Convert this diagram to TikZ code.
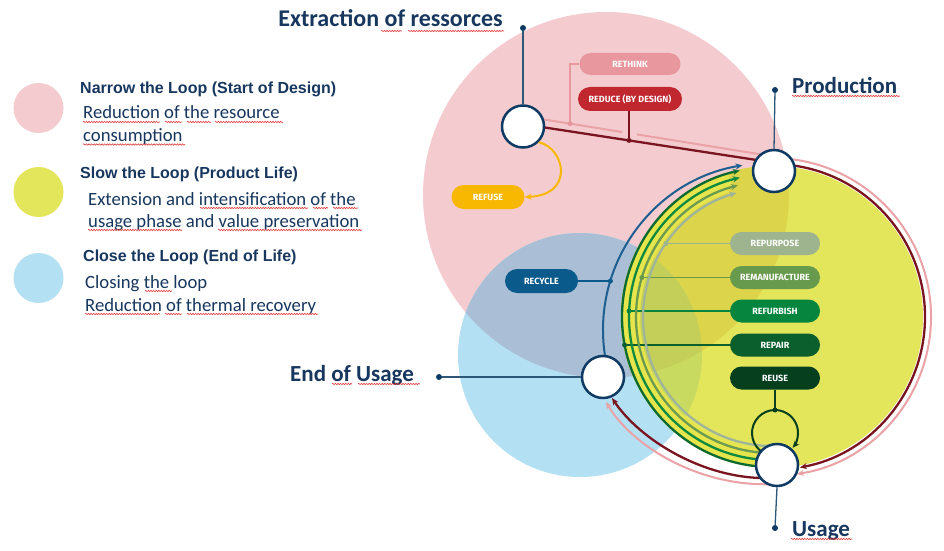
\documentclass[tikz,border=0pt]{standalone}
\usepackage{fontspec}
\setmainfont{Carlito}
\newfontfamily\arialfont{Liberation Sans}
\newfontfamily\pillfont{Fira Sans}
\usetikzlibrary{arrows.meta,calc,decorations.pathmorphing,shapes.misc}
\definecolor{cpink}{HTML}{F4CCD0}
\definecolor{cblue}{HTML}{B3E0F2}
\definecolor{cpb}{HTML}{AABFD6}
\definecolor{cyel}{HTML}{E3E55B}
\definecolor{cyp}{HTML}{DCD44A}
\definecolor{cyb}{HTML}{C8DA60}
\definecolor{cypb}{HTML}{C4CF5A}
\definecolor{cyelb}{HTML}{E6E54C}
\definecolor{nodeblue}{HTML}{0F3A63}
\definecolor{labelnavy}{HTML}{17375E}
\definecolor{pinline}{HTML}{2D5677}
\definecolor{cred}{HTML}{7A1420}
\definecolor{cpinkl}{HTML}{EBA2A7}
\definecolor{crethink}{HTML}{E8979E}
\definecolor{creduce}{HTML}{C0272F}
\definecolor{crefuse}{HTML}{F8B700}
\definecolor{crecycle}{HTML}{0A5A8C}
\definecolor{cbluel}{HTML}{1E5E90}
\definecolor{crepurp}{HTML}{9DB48E}
\definecolor{creman}{HTML}{679A4C}
\definecolor{crefurb}{HTML}{05853E}
\definecolor{crepair}{HTML}{0B5F2D}
\definecolor{creuse}{HTML}{063F1D}
\definecolor{cdkg}{HTML}{0C6B30}
\definecolor{cgreen}{HTML}{0E8A40}
\definecolor{cmidg}{HTML}{6B9B50}
\definecolor{cgrey}{HTML}{9FB59A}
\definecolor{sqred}{HTML}{E03A3A}
\begin{document}
\begin{tikzpicture}[x=1pt,y=1pt,
  stage/.style={circle, draw=nodeblue, line width=2.5pt, fill=white, minimum size=42pt, inner sep=0pt},
  pill/.style={rounded rectangle, inner sep=0pt, minimum width=90pt, minimum height=23pt, text=white,
     font=\pillfont\bfseries\fontsize{9}{10}\selectfont},
  legdot/.style={circle, inner sep=0pt, minimum size=50pt},
  pdot/.style={circle, fill=nodeblue, inner sep=0pt, minimum size=6pt},
  sdot/.style={circle, inner sep=0pt, minimum size=5pt},
  pinl/.style={draw=pinline, line width=1.3pt},
  conn/.style={line width=1.3pt},
  arcl/.style={line width=2.3pt, -{Stealth[length=7pt,width=6pt]}},
  tip/.style={-{Stealth[length=7pt,width=6pt]}},
  bigl/.style={font=\bfseries\fontsize{23}{26}\selectfont, text=labelnavy, inner sep=0pt},
  ltitle/.style={font=\arialfont\bfseries\fontsize{16}{19}\selectfont, text=labelnavy, inner sep=0pt, anchor=base west},
  lbody/.style={font=\fontsize{18.7}{22}\selectfont, text=labelnavy, inner sep=0pt, anchor=base west},
  squig/.style={draw=sqred, line width=0.6pt, decorate, decoration={snake, segment length=2.6pt, amplitude=0.7pt}}
]
\useasboundingbox (0,0) rectangle (944,550);
\fill[white] (0,0) rectangle (944,550);
\coordinate (pc) at (606,355);
\coordinate (bc) at (580,195);
\coordinate (yc) at (772,233);
\coordinate (rc) at (770,220);
% background circles
\fill[cpink] (pc) circle[radius=183];
\fill[cblue] (bc) circle[radius=122];
\begin{scope}
  \clip (pc) circle[radius=183];
  \fill[cpb] (bc) circle[radius=122];
\end{scope}
\fill[cyel] (yc) circle[radius=151];
\begin{scope}
  \clip (yc) circle[radius=151];
  \fill[cyp] (pc) circle[radius=183];
  \fill[cyb] (bc) circle[radius=122];
  \clip (pc) circle[radius=183];
  \fill[cypb] (bc) circle[radius=122];
\end{scope}
% legend
\node[legdot, fill=cpink] (lpink) at (38.5,442) {};
\node[legdot, fill=cyel] (lyel) at (38.5,358) {};
\node[legdot, fill=cblue] (lblue) at (38.5,272) {};
\node[ltitle] (t1) at (80,456) {Narrow the Loop (Start of Design)};
\node[lbody] (b1a) at (83,431) {Reduction of the resource};
\node[lbody] (b1b) at (83,409) {consumption};
\node[ltitle] (t2) at (80,372) {Slow the Loop (Product Life)};
\node[lbody] (b2a) at (88,345) {Extension and intensification of the};
\node[lbody] (b2b) at (88,323) {usage phase and value preservation};
\node[ltitle] (t3) at (83,289) {Close the Loop (End of Life)};
\node[lbody] (b3a) at (85,262) {Closing the loop};
\node[lbody] (b3b) at (85,239) {Reduction of thermal recovery};
% spell-check marks
\draw[squig] (83,428) -- (160,428);
\draw[squig] (165,428) -- (182,428);
\draw[squig] (187,428) -- (211,428);
\draw[squig] (215,428) -- (283,428);
\draw[squig] (83,405.5) -- (185,405.5);
\draw[squig] (200,342) -- (308,342);
\draw[squig] (313,342) -- (328,342);
\draw[squig] (333,342) -- (358,342);
\draw[squig] (88,320) -- (182,320);
\draw[squig] (218,320) -- (362,320);
\draw[squig] (145,259) -- (172,259);
\draw[squig] (85,236) -- (160,236);
\draw[squig] (165,236) -- (182,236);
\draw[squig] (187,236) -- (318,236);
% yellow casing of the arc band
\draw[cyelb, line width=12pt] ([shift={(-90:143)}]yc) arc[start angle=-90, end angle=-253, radius=143];
\draw[cyelb, line width=8pt] ([shift={(-90:136)}]yc) arc[start angle=-90, end angle=-251, radius=136];
% pills
\node[pill, fill=crethink, minimum width=101pt, minimum height=22pt] (rethink) at (630,486) {RETHINK};
\node[pill, fill=creduce, minimum width=104pt, minimum height=24pt] (reduce) at (630,451) {REDUCE (BY DESIGN)};
\node[pill, fill=crefuse, minimum width=73pt, minimum height=24pt] (refuse) at (488,353) {REFUSE};
\node[pill, fill=crecycle, minimum width=73pt, minimum height=24pt] (recycle) at (541.5,269) {RECYCLE};
\node[pill, fill=crepurp] (repurpose) at (775,306.5) {REPURPOSE};
\node[pill, fill=creman] (reman) at (775,272.5) {REMANUFACTURE};
\node[pill, fill=crefurb] (refurb) at (775,239) {REFURBISH};
\node[pill, fill=crepair] (repair) at (775,205) {REPAIR};
\node[pill, fill=creuse] (reuse) at (775,172) {REUSE};
% dots on arcs
\coordinate (drp) at (666,306.5);
\coordinate (drm) at (641.9,272.5);
\coordinate (drf) at (629.1,239);
\coordinate (drr) at (624.6,205);
\coordinate (drc) at (610.4,269);
\coordinate (dru) at (775,140);
% connectors
\draw[conn, crepurp] (repurpose.west) -- (drp);
\draw[conn, creman] (reman.west) -- (drm);
\draw[conn, crefurb] (refurb.west) -- (drf);
\draw[conn, crepair] (repair.west) -- (drr);
\draw[conn, crecycle] (recycle.east) -- (drc);
\draw[conn, creuse] (reuse.south) -- (dru);
% green arcs and blue arc
\draw[arcl, cgrey] ([shift={(-90:129)}]yc) arc[start angle=-90, end angle=-254, radius=129];
\draw[arcl, cmidg] ([shift={(-90:136)}]yc) arc[start angle=-90, end angle=-255.5, radius=136];
\draw[arcl, cgreen] ([shift={(-90:143)}]yc) arc[start angle=-90, end angle=-257, radius=143];
\draw[arcl, cdkg] ([shift={(-90:150)}]yc) arc[start angle=-90, end angle=-257.6, radius=150];
\draw[arcl, cbluel, line width=2pt] ([shift={(-170.5:167)}]rc) arc[start angle=-170.5, end angle=-260.5, radius=167];
% reuse loop
\draw[line width=2pt, creuse, tip] ([shift={(238:23)}]775,117) arc[start angle=238, end angle=-40, radius=23];
% red and pink lines
\coordinate (rA) at (535,424);
\coordinate (rk1) at ([shift={(84:153)}]yc);
\coordinate (pA) at (535,432);
\coordinate (pk1) at ([shift={(84:159)}]yc);
\coordinate (rthd) at ($(pA)!0.138!(pk1)$);
\coordinate (rdd) at ($(rA)!0.3715!(rk1)$);
\draw[cpinkl, line width=2pt] (pA) -- ($(pA)!0.343!(pk1)$);
\draw[cpinkl, line width=2pt, tip] ($(pA)!0.402!(pk1)$) -- (pk1) arc[start angle=84, end angle=-81, radius=159];
\draw[cpinkl, line width=2pt, tip] (775,66) .. controls (700,62) and (632,104) .. (606,148);
\draw[cred, line width=2.3pt, tip] (rA) -- (rk1) arc[start angle=84, end angle=-79.5, radius=153];
\draw[cred, line width=2.3pt, tip] (770,72) .. controls (705,70) and (640,110) .. (612,152);
\draw[conn, crethink] (rethink.west) -| (rthd);
\draw[conn, cred] (rdd |- reduce.south) -- (rdd);
% dots
\node[sdot, fill=crethink] (drthd) at (rthd) {};
\node[sdot, fill=cred] (drdd) at (rdd) {};
\node[sdot, fill=crepurp] (ddrp) at (drp) {};
\node[sdot, fill=creman] (ddrm) at (drm) {};
\node[sdot, fill=crefurb] (ddrf) at (drf) {};
\node[sdot, fill=crepair] (ddrr) at (drr) {};
\node[sdot, fill=crecycle] (ddrc) at (drc) {};
\node[sdot, fill=creuse] (ddru) at (dru) {};
% stage nodes
\node[stage] (ext) at (523,423.5) {};
\node[stage] (prod) at (774,379) {};
\node[stage] (eou) at (603,173) {};
\node[stage] (use) at (777,85) {};
% refuse arrow
\draw[crefuse, line width=2pt, tip] (ext.-45) .. controls (565,402) and (575,355) .. (refuse.east);
% pins
\node[pdot] (extd) at (523,522) {};
\node[pdot] (prodd) at (775,460) {};
\node[pdot] (eoud) at (439,173) {};
\node[pdot] (used) at (775,22) {};
\draw[pinl] (ext.north) -- (extd);
\draw[pinl] (prod.north) -- (prodd);
\draw[pinl] (eou.west) -- (eoud);
\draw[pinl] (use.south) -- (used);
% labels
\node[bigl, anchor=base east, font=\bfseries\fontsize{24}{27}\selectfont] (lext) at (503,523) {Extraction of ressorces};
\node[bigl, anchor=base west] (lprod) at (792,456) {Production};
\node[bigl, anchor=base west] (leou) at (290,169) {End of Usage};
\node[bigl, anchor=base west] (luse) at (792,14) {Usage};
\draw[squig] (381,519) -- (402,519);
\draw[squig] (408,519) -- (504,519);
\draw[squig] (792,454) -- (900,454);
\draw[squig] (332,166) -- (352,166);
\draw[squig] (358,166) -- (420,166);
\draw[squig] (791,11) -- (852,11);
\end{tikzpicture}
\end{document}
